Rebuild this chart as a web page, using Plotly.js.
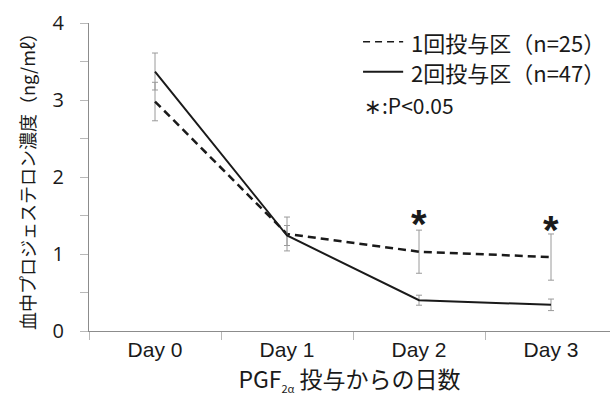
<!DOCTYPE html>
<html><head><meta charset="utf-8">
<script src="https://cdn.plot.ly/plotly-3.0.1.min.js"></script>
<style>html,body{margin:0;padding:0;background:#fff;}#chart{width:610px;height:401px;}</style>
</head><body><div id="chart"></div>
<script>
const days = ["Day 0", "Day 1", "Day 2", "Day 3"];
const onceMean = [2.98, 1.26, 1.03, 0.96];
const onceErr = [0.25, 0.22, 0.28, 0.30];
const twiceMean = [3.37, 1.24, 0.40, 0.34];
const twiceErr = [0.24, 0.13, 0.065, 0.075];
const sigDays = ["Day 2", "Day 3"];
const sigY = [1.50, 1.42];
const yTickVals = [0, 1, 2, 3, 4];
const yTickText = ["0", "1", "2", "3", "4"];
const onceName = "1回投与区（n=25）";
const twiceName = "2回投与区（n=47）";
const sigNote = "∗:P&lt;0.05";

const jp = '"Noto Sans CJK JP", "Noto Sans", sans-serif';
const errStyle = {type: 'data', visible: true, color: '#9a9a9a', thickness: 1, width: 3};

const traces = [
  {x: days, y: onceMean, name: onceName, type: 'scatter', mode: 'lines',
   line: {color: '#1a1a1a', width: 2.5, dash: '8px,5px'},
   error_y: Object.assign({array: onceErr}, errStyle), showlegend: false},
  {x: days, y: twiceMean, name: twiceName, type: 'scatter', mode: 'lines',
   line: {color: '#1a1a1a', width: 2},
   error_y: Object.assign({array: twiceErr}, errStyle), showlegend: false}
];

const annotations = sigDays.map((d, i) => ({
  x: d, y: sigY[i], xref: 'x', yref: 'y', text: '*', showarrow: false,
  font: {family: '"Liberation Sans", Arial, sans-serif', size: 40, color: '#1a1a1a', weight: 'bold'},
  yanchor: 'middle', xanchor: 'center', yshift: -8
}));

// custom legend
const legY = [0.939, 0.842];
const legNames = [onceName, twiceName];
legNames.forEach((n, i) => {
  annotations.push({x: 0.614, y: legY[i], xref: 'paper', yref: 'paper', text: n, showarrow: false,
    xanchor: 'left', yanchor: 'middle', font: {family: jp, size: 22, color: '#1a1a1a'}});
});
annotations.push({x: 0.524, y: 0.734, xref: 'paper', yref: 'paper', text: sigNote, showarrow: false,
  xanchor: 'left', yanchor: 'middle', font: {family: jp, size: 21, color: '#1a1a1a'}});

const shapes = [
  {type: 'line', xref: 'paper', yref: 'paper', x0: 0.526, x1: 0.603, y0: legY[0], y1: legY[0],
   line: {color: '#1a1a1a', width: 1.5, dash: '7px,5px'}},
  {type: 'line', xref: 'paper', yref: 'paper', x0: 0.526, x1: 0.603, y0: legY[1], y1: legY[1],
   line: {color: '#1a1a1a', width: 2}}
];

const layout = {
  width: 610, height: 401,
  margin: {l: 89, r: 0, t: 23, b: 70},
  paper_bgcolor: '#fff', plot_bgcolor: '#fff',
  showlegend: false,
  xaxis: {
    type: 'category', categoryarray: days, range: [-0.5, 3.447],
    showgrid: false, zeroline: false, showline: true, linecolor: '#8c8c8c', linewidth: 1,
    ticks: 'outside', tickson: 'boundaries', ticklen: 8, tickcolor: '#b8b8b8', tickwidth: 1,
    tickfont: {family: '"Liberation Sans", Arial, sans-serif', size: 21, color: '#1a1a1a'},
    title: {text: 'PGF<sub><span style="font-size:11px">2α</span></sub> 投与からの日数', standoff: 6,
            font: {family: jp, size: 23, color: '#1a1a1a'}},
    fixedrange: true
  },
  yaxis: {
    range: [0, 4], tickvals: yTickVals, ticktext: yTickText,
    minor: {dtick: 0.5, ticks: 'outside', ticklen: 8, tickcolor: '#b8b8b8', tickwidth: 1, showgrid: false},
    showgrid: false, zeroline: false, showline: true, linecolor: '#8c8c8c', linewidth: 1,
    ticks: 'outside', ticklen: 8, tickcolor: '#b8b8b8', tickwidth: 1, ticklabelstandoff: 12,
    tickfont: {family: '"Open Sans", "Liberation Sans", sans-serif', size: 20, color: '#1a1a1a'},
    title: {text: '血中プロジェステロン濃度（ng/mℓ）', standoff: 12,
            font: {family: jp, size: 18, color: '#1a1a1a'}},
    fixedrange: true
  },
  annotations: annotations,
  shapes: shapes
};

Plotly.newPlot('chart', traces, layout, {displayModeBar: false, staticPlot: true});
</script></body></html>
